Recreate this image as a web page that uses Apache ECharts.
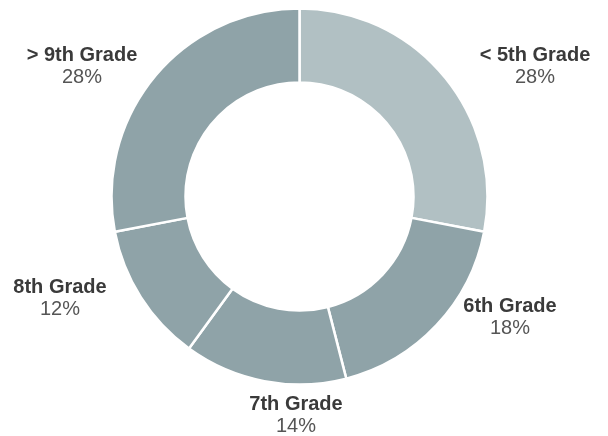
<!DOCTYPE html>
<html>
<head>
<meta charset="utf-8">
<script src="https://cdn.jsdelivr.net/npm/echarts@6/dist/echarts.min.js"></script>
<style>html,body{margin:0;padding:0;background:#fff}#c{width:608px;height:436px}</style>
</head>
<body>
<div id="c"></div>
<script>
const categories = ['< 5th Grade', '6th Grade', '7th Grade', '8th Grade', '> 9th Grade'];
const values = [28, 18, 14, 12, 28];
const sliceColors = ['#b1c0c3', '#8fa3a8', '#8fa3a8', '#8fa3a8', '#8fa3a8'];
const labelPos = [[535, 66], [510, 317], [296, 415], [60, 298], [82, 66]];

const chart = echarts.init(document.getElementById('c'), null, {renderer: 'canvas'});
chart.setOption({
  animation: false,
  series: [{
    type: 'pie',
    center: [299.5, 196.5],
    radius: [114, 188],
    startAngle: 90,
    clockwise: true,
    avoidLabelOverlap: false,
    data: categories.map((n, i) => ({name: n, value: values[i], itemStyle: {color: sliceColors[i]}})),
    itemStyle: {borderColor: '#ffffff', borderWidth: 2.5},
    label: {
      show: true,
      position: 'outside',
      overflow: 'none',
      alignTo: 'none',
      bleedMargin: 0,
      formatter: p => '{n|' + p.name + '}\n{p|' + p.value + '%}',
      rich: {
        n: {fontFamily: 'Liberation Sans, Arial', fontWeight: 'bold', fontSize: 20, color: '#3a3a3a', lineHeight: 22, align: 'center'},
        p: {fontFamily: 'Liberation Sans, Arial', fontSize: 20, color: '#555555', lineHeight: 22, align: 'center'}
      }
    },
    labelLine: {show: false},
    labelLayout: p => ({x: labelPos[p.dataIndex][0], y: labelPos[p.dataIndex][1], align: 'center', verticalAlign: 'middle'}),
    emphasis: {disabled: true}
  }]
});
</script>
</body>
</html>
